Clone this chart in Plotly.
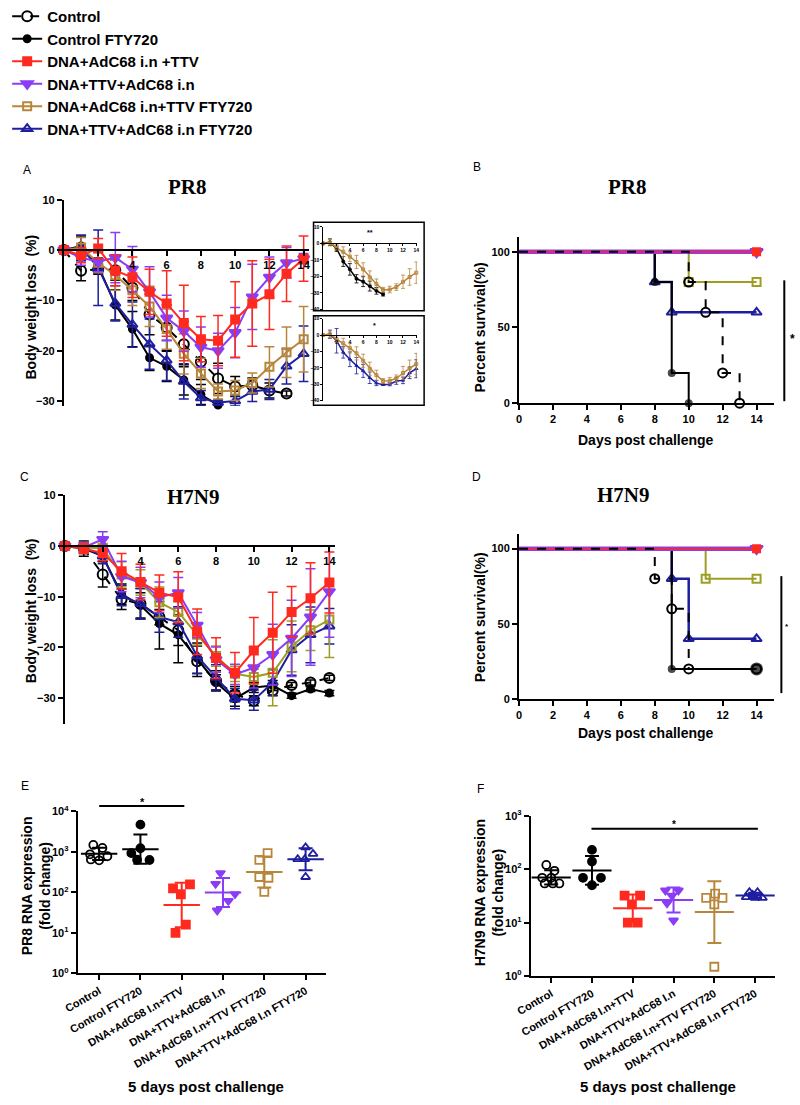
import numpy as np
import plotly.graph_objects as go

W, H = 800, 1105
FONT = "Liberation Sans, Arial, sans-serif"
SERIF = "Liberation Serif, Times New Roman, serif"

# ---------------- DATA ----------------
GROUPS = ["Control", "Control FTY720", "DNA+AdC68 i.n +TTV", "DNA+TTV+AdC68 i.n",
          "DNA+AdC68 i.n+TTV FTY720", "DNA+TTV+AdC68 i.n FTY720"]
CATS = ["Control", "Control FTY720", "DNA+AdC68 I.n+TTV", "DNA+TTV+AdC68 I.n",
        "DNA+AdC68 I.n+TTV FTY720", "DNA+TTV+AdC68 I.n FTY720"]

# Panel A: PR8 body weight loss (%), mean and SD per day
A_ctrl = [0, -4.1, -3.8, -4.0, -7.5, -12.8, -15.4, -18.7, -22.2, -25.5, -27.1, -26.9, -27.9, -28.5]
A_ctrl_sd = [0, 2, 1, 2, 2.5, 4, 4.5, 4.5, 3.5, 3, 2, 1.5, 1.5, 0.5]
A_fty = [0, 0.8, -3.1, -10.9, -15.7, -21.4, -23.1, -25.8, -28.7, -30.8]
A_fty_sd = [0, 2, 1.5, 3, 3.5, 2.5, 3, 3, 2, 1]
A_red = [0, -1.0, 0.3, -4.1, -5.4, -8.3, -10.6, -14.5, -17.7, -18.0, -13.8, -10.6, -8.8, -4.7, -1.7]
A_red_sd = [0, 1.5, 2, 3, 4, 4.5, 6.5, 7.5, 4.5, 5, 7.5, 8.5, 7, 5.5, 4.5]
A_pur = [0, -1.5, -2.3, -1.5, -3.8, -8.3, -13.5, -16.1, -19.3, -20.0, -16.4, -9.3, -5.4, -2.5, -1.7]
A_pur_sd = [0, 1.5, 2, 5, 4.5, 5, 4.5, 4, 4, 3.5, 5, 6.5, 4, 3, 1]
A_brn = [0, 0.5, -2.5, -5.0, -8.0, -11.2, -15.7, -20.6, -24.5, -28.1, -27.9, -26.4, -23.2, -20.3, -17.7]
A_brn_sd = [0, 2, 2, 3, 3, 4, 4, 4, 3, 1.5, 2, 2, 4, 5, 6.5]
A_blu = [0, 0.5, -3.5, -10.6, -14.8, -18.7, -21.9, -26.1, -29.4, -30.3, -30.0, -28.1, -27.7, -23.1, -20.6]
A_blu_sd = [0, 2.5, 7.5, 3.5, 4.5, 5, 4, 3.5, 1.5, 0.5, 1, 2, 2, 3.5, 5.5]

# Panel C: H7N9 body weight loss (%)
C_ctrl = [0, -0.5, -5.6, -10.5, -11.4, -14, -16.6, -22.7, -26.6, -29.2, -30.5, -28.5, -27.4, -26.9, -26.0]
C_ctrl_sd = [0, 1.5, 2.5, 2, 3, 1.5, 3, 3, 2, 1.5, 1, 1, 0.5, 0.5, 0.5]
C_fty = [0, -0.5, -2, -9.5, -11.7, -15.3, -17.5, -22.1, -26.9, -30.1, -27.9, -27.5, -29.5, -28.2, -29.0]
C_fty_sd = [0, 1, 1, 2, 2.5, 5, 5.5, 3, 1.5, 1.5, 1, 1, 0.5, 0.5, 0.5]
C_red = [0, -0.5, -1.4, -5, -7.1, -9.2, -10.1, -16.9, -22.1, -25, -20.6, -17.1, -13, -10.3, -7.2]
C_red_sd = [0, 1, 1.5, 3.5, 3.5, 3.5, 5, 4.5, 4, 4, 6.5, 8, 5, 7, 6]
C_pur = [0, -0.3, 1.3, -6, -7.2, -10.1, -9.2, -15.6, -22.4, -25.3, -24, -21.4, -18.2, -14, -9]
C_pur_sd = [0, 1, 1.5, 3, 3, 3, 3, 2.5, 2.5, 2, 4, 6, 7.5, 9.5, 9]
C_brn = [0, -0.3, -0.5, -5.6, -7.2, -11.1, -13, -17.5, -21.7, -25.2, -25.8, -25, -19.8, -16.6, -14.5]
C_brn_sd = [0, 1, 1, 2.5, 2.5, 3, 2, 2, 2, 1.5, 1.5, 6.5, 5, 4, 7.5]
C_blu = [0, -0.3, -2, -9.8, -11.4, -14, -15, -21.7, -25.9, -30.1, -30.4, -26.9, -20.5, -17.5, -15.8]
C_blu_sd = [0, 1, 1.5, 2, 3, 3, 3, 3.5, 2.5, 2, 2, 2.5, 5, 5.5, 3.5]

# Panel B: PR8 survival (step points: day, percent)
B_ctrl_t, B_ctrl_s = [0, 10, 11, 12, 13], [100, 80, 60, 20, 0]
B_fty_t, B_fty_s = [0, 8, 9, 10], [100, 80, 20, 0]
B_red_t, B_red_s = [0, 14], [100, 100]
B_pur_t, B_pur_s = [0, 14], [100, 100]
B_brn_t, B_brn_s = [0, 10, 14], [100, 80, 80]
B_blu_t, B_blu_s = [0, 8, 9, 14], [100, 80, 60, 60]

# Panel D: H7N9 survival
D_ctrl_t, D_ctrl_s = [0, 8, 9, 10, 14], [100, 80, 60, 20, 20]
D_fty_t, D_fty_s = [0, 9, 14], [100, 20, 20]
D_red_t, D_red_s = [0, 14], [100, 100]
D_pur_t, D_pur_s = [0, 14], [100, 100]
D_brn_t, D_brn_s = [0, 11, 14], [100, 80, 80]
D_blu_t, D_blu_s = [0, 9, 10, 14], [100, 80, 40, 40]

# Panel E: PR8 RNA expression (fold change), individual mice
E_ctrl = [1480, 1250, 870, 780, 650, 620]
E_fty = [4700, 1230, 930, 640, 630]
E_red = [126, 158, 90, 16, 10]
E_pur = [300, 163, 91, 62, 36]
E_brn = [930, 635, 240, 230, 103]
E_blu = [1290, 890, 660, 660, 240]

# Panel F: H7N9 RNA expression (fold change)
F_ctrl = [120, 93, 69, 69, 54, 54, 54]
F_fty = [229, 139, 69, 69, 50]
F_red = [32, 32, 22, 10, 10]
F_pur = [40, 40, 32, 23, 11]
F_brn = [35, 29, 29, 22, 1.5]
F_blu = [37, 37, 30, 29, 29, 33]

# ---------------- STYLE ----------------
BLACK = "black"
RED = "#FF2A1F"
PUR = "#8B3CF5"
BRN = "#B8863B"
OLV = "#9E9E24"
BLU = "#1E1E9E"

# horizontal jitter (category units) for scatter dots
JIT_E = [[-0.14, 0.08, -0.22, 0.2, -0.2, 0.0],
         [0.0, 0.0, -0.22, -0.08, 0.22],
         [-0.21, 0.2, -0.02, 0.1, -0.15],
         [-0.06, -0.18, 0.29, 0.13, -0.14],
         [0.08, -0.12, -0.12, 0.1, 0.0],
         [0.0, 0.18, -0.19, -0.02, 0.0]]
JIT_F = [[-0.12, 0.08, -0.22, 0.0, -0.16, 0.04, 0.2],
         [0.0, 0.0, -0.22, 0.22, 0.0],
         [-0.2, 0.18, -0.02, -0.12, 0.12],
         [-0.2, 0.12, -0.04, -0.16, 0.0],
         [0.02, -0.2, 0.2, 0.0, 0.0],
         [-0.14, 0.06, -0.22, 0.0, 0.18, -0.06]]


def dx(a, b):
    return [a / W, b / W]


def dy(top, bottom):
    return [1 - bottom / H, 1 - top / H]


def px(x):
    return x / W


def py(y):
    return 1 - y / H


fig = go.Figure()
TICKF = dict(family=FONT, size=11, color="black", weight="bold")

# ---------------- PANEL A ----------------
A_series = [
    (GROUPS[0], A_ctrl, A_ctrl_sd, BLACK, "circle-open", 10, "dash"),
    (GROUPS[1], A_fty, A_fty_sd, BLACK, "circle", 7, "solid"),
    (GROUPS[5], A_blu, A_blu_sd, BLU, "triangle-up-open", 9, "solid"),
    (GROUPS[4], A_brn, A_brn_sd, BRN, "square-open", 8, "solid"),
    (GROUPS[3], A_pur, A_pur_sd, PUR, "triangle-down", 10, "solid"),
    (GROUPS[2], A_red, A_red_sd, RED, "square", 8, "solid"),
]
ranks = {g: i for i, g in enumerate(GROUPS)}
for name, ys, sd, col, sym, sz, dash in A_series:
    fig.add_trace(go.Scatter(
        x=list(range(len(ys))), y=ys, xaxis="x", yaxis="y", name=name,
        mode="lines+markers", legendgroup=name, legendrank=ranks[name],
        line=dict(color=col, width=2, dash=dash),
        marker=dict(symbol=sym, size=sz, color=col, line=dict(width=2, color=col)),
        error_y=dict(type="data", array=sd, color=col, thickness=1.5, width=5),
        cliponaxis=False, showlegend=True))

# insets
for ax, pair in (("2", [(A_fty, A_fty_sd, BLACK, "circle"), (A_brn, A_brn_sd, BRN, "square-open")]),
                 ("3", [(A_blu, A_blu_sd, BLU, "triangle-up-open"), (A_brn, A_brn_sd, BRN, "square-open")])):
    for ys, sd, col, sym in pair:
        fig.add_trace(go.Scatter(
            x=list(range(len(ys))), y=ys, xaxis="x" + ax, yaxis="y" + ax, mode="lines+markers",
            line=dict(color=col, width=1.5), marker=dict(symbol=sym, size=3, color=col, line=dict(width=1, color=col)),
            error_y=dict(type="data", array=sd, color=col, thickness=0.8, width=2),
            cliponaxis=False, showlegend=False))

# ---------------- PANEL C ----------------
C_series = [
    (C_ctrl, C_ctrl_sd, BLACK, "circle-open", 10, "dash"),
    (C_fty, C_fty_sd, BLACK, "circle", 7, "solid"),
    (C_blu, C_blu_sd, BLU, "triangle-up-open", 9, "solid"),
    (C_brn, C_brn_sd, OLV, "square-open", 8, "solid"),
    (C_pur, C_pur_sd, PUR, "triangle-down", 10, "solid"),
    (C_red, C_red_sd, RED, "square", 8, "solid"),
]
for ys, sd, col, sym, sz, dash in C_series:
    fig.add_trace(go.Scatter(
        x=list(range(len(ys))), y=ys, xaxis="x5", yaxis="y5", mode="lines+markers",
        line=dict(color=col, width=2, dash=dash),
        marker=dict(symbol=sym, size=sz, color=col, line=dict(width=2, color=col)),
        error_y=dict(type="data", array=sd, color=col, thickness=1.5, width=5),
        cliponaxis=False, showlegend=False))


# ---------------- SURVIVAL ----------------
def surv(ax, t, s, col, dash, width, sym, sizes, opacity=1.0):
    fig.add_trace(go.Scatter(x=t, y=s, xaxis="x" + ax, yaxis="y" + ax, mode="lines",
                             line=dict(color=col, width=width, dash=dash, shape="hv"),
                             opacity=opacity, cliponaxis=False, showlegend=False))
    if sym:
        fig.add_trace(go.Scatter(x=t[1:], y=s[1:], xaxis="x" + ax, yaxis="y" + ax, mode="markers",
                                 marker=dict(symbol=sym, size=sizes, color=col, line=dict(width=2, color=col)),
                                 cliponaxis=False, showlegend=False))


for ax, d in (("4", dict(ctrl=(B_ctrl_t, B_ctrl_s), fty=(B_fty_t, B_fty_s), red=(B_red_t, B_red_s),
                        pur=(B_pur_t, B_pur_s), brn=(B_brn_t, B_brn_s), blu=(B_blu_t, B_blu_s))),
              ("6", dict(ctrl=(D_ctrl_t, D_ctrl_s), fty=(D_fty_t, D_fty_s), red=(D_red_t, D_red_s),
                        pur=(D_pur_t, D_pur_s), brn=(D_brn_t, D_brn_s), blu=(D_blu_t, D_blu_s)))):
    t, s = d["brn"]
    surv(ax, t, s, OLV, "solid", 2, "square-open", 8)
    t, s = d["blu"]
    surv(ax, t, s, BLU, "solid", 2.5, "triangle-up-open", 9)
    t, s = d["fty"]
    szs = [6] * (len(t) - 2) + [6 if s[-1] == 0 else 11]
    surv(ax, t, s, BLACK, "solid", 2, "circle", szs)
    t, s = d["pur"]
    surv(ax, t, s, PUR, "solid", 4.5, "triangle-down", 11)
    t, s = d["red"]
    surv(ax, t, s, RED, "solid", 2, "square", 7, opacity=0.85)
    t, s = d["ctrl"]
    surv(ax, t, s, BLACK, "dash", 2, "circle-open", 9)

# ---------------- RNA PANELS ----------------
E_sets = [E_ctrl, E_fty, E_red, E_pur, E_brn, E_blu]
F_sets = [F_ctrl, F_fty, F_red, F_pur, F_brn, F_blu]
RNA_STYLE = [(BLACK, "circle-open"), (BLACK, "circle"), (RED, "square"), (PUR, "triangle-down"),
             (BRN, "square-open"), (BLU, "triangle-up-open")]
for ax, sets, jit, mw in (("7", E_sets, JIT_E, 26), ("8", F_sets, JIT_F, 28)):
    for i, (vals, (col, sym)) in enumerate(zip(sets, RNA_STYLE)):
        fig.add_trace(go.Scatter(x=[i + o for o in jit[i]], y=vals, xaxis="x" + ax, yaxis="y" + ax,
                                 mode="markers", marker=dict(symbol=sym, size=8, color=col,
                                                              line=dict(width=1.8, color=col)),
                                 cliponaxis=False, showlegend=False))
        lg = np.log10(vals)
        m, sdv = lg.mean(), lg.std(ddof=1)
        gm = 10 ** m
        fig.add_trace(go.Scatter(x=[i], y=[gm], xaxis="x" + ax, yaxis="y" + ax, mode="markers",
                                 marker=dict(symbol="line-ew", size=mw, color=col, line=dict(width=2, color=col)),
                                 error_y=dict(type="data", symmetric=False, array=[10 ** (m + sdv) - gm],
                                              arrayminus=[gm - 10 ** (m - sdv)], color=col, thickness=2, width=7),
                                 cliponaxis=False, showlegend=False))

# ---------------- AXES ----------------
def zero_pos(domy, rng):
    return domy[0] + (0 - rng[0]) / (rng[1] - rng[0]) * (domy[1] - domy[0])


AX_COMMON = dict(showline=True, linecolor="black", linewidth=2, ticks="outside", tickcolor="black",
                 tickwidth=2, ticklen=5, showgrid=False, zeroline=False, tickfont=TICKF, fixedrange=True)

layout = dict(width=W, height=H, autosize=False, margin=dict(l=0, r=0, t=0, b=0),
              paper_bgcolor="white", plot_bgcolor="rgba(0,0,0,0)", showlegend=True)

# A
yA_dom, yA_rng = dy(190, 400), [-31, 10]
layout["xaxis"] = dict(domain=dx(50, 300), range=[0, 14.29], anchor="free", position=zero_pos(yA_dom, yA_rng),
                       tickvals=[2, 4, 6, 8, 10, 12, 14], ticktext=["", "4", "6", "8", "10", "12", "14"],
                       **AX_COMMON)
layout["yaxis"] = dict(domain=yA_dom, range=yA_rng, anchor="x", tickvals=[-30, -20, -10, 0, 10], **AX_COMMON)

# insets
SMALL = dict(family=FONT, size=5, color="black", weight="bold")
for ax, top, bot in (("2", 217.7, 301.7), ("3", 311, 394.3)):
    ydom, yrng = dy(top, bot), [-40, 10]
    c = dict(AX_COMMON)
    c.update(linewidth=1, tickwidth=1, ticklen=2, tickfont=SMALL)
    layout["xaxis" + ax] = dict(domain=dx(315, 411), range=[0, 14.15], anchor="free",
                                position=zero_pos(ydom, yrng), tickvals=[2, 4, 6, 8, 10, 12, 14], **c)
    layout["yaxis" + ax] = dict(domain=ydom, range=yrng, anchor="x" + ax,
                                tickvals=[-40, -30, -20, -10, 0, 10], **c)

# B and D
for ax, top, bot in (("4", 227.6, 397), ("6", 529.7, 698)):
    layout["xaxis" + ax] = dict(domain=dx(515, 775), range=[0, 15], anchor="y" + ax,
                                tickvals=list(range(0, 15, 2)), **AX_COMMON)
    layout["yaxis" + ax] = dict(domain=dy(top, bot), range=[0, 110], anchor="x" + ax,
                                tickvals=[0, 50, 100], **AX_COMMON)

# C
yC_dom, yC_rng = dy(490.7, 723), [-35, 10]
layout["xaxis5"] = dict(domain=dx(51, 327), range=[0, 14.3], anchor="free", position=zero_pos(yC_dom, yC_rng),
                        tickvals=[2, 4, 6, 8, 10, 12, 14], ticktext=["", "4", "6", "8", "10", "12", "14"],
                        **AX_COMMON)
layout["yaxis5"] = dict(domain=yC_dom, range=yC_rng, anchor="x5", tickvals=[-30, -20, -10, 0, 10], **AX_COMMON)

# E and F
for ax, xd, xr, top, bot, nd in (("7", (64, 318), [-0.52, 5.5], 812.3, 977.3, 4),
                                 ("8", (527, 777), [-0.5, 5.5], 816.7, 980, 3)):
    layout["xaxis" + ax] = dict(domain=dx(*xd), range=xr, anchor="y" + ax, tickvals=list(range(6)),
                                ticktext=CATS, tickangle=-30, **AX_COMMON)
    layout["yaxis" + ax] = dict(domain=dy(top, bot), range=[0, nd], type="log", anchor="x" + ax,
                                tickvals=[10 ** k for k in range(nd + 1)],
                                ticktext=["10<sup>%d</sup>" % k for k in range(nd + 1)], **AX_COMMON)

layout["legend"] = dict(x=-0.01, y=1.012, xanchor="left", yanchor="top", bgcolor="rgba(0,0,0,0)",
                        font=dict(family=FONT, size=15, color="black", weight="bold"),
                        tracegroupgap=0, itemwidth=30)

# ---------------- ANNOTATIONS ----------------
ann = []


def txt(x, y, t, size=12, font=FONT, angle=0, bold=True, xanchor="center"):
    ann.append(dict(x=px(x), y=py(y), xref="paper", yref="paper", text=("<b>%s</b>" % t) if bold else t,
                    showarrow=False, textangle=angle, xanchor=xanchor, yanchor="middle",
                    font=dict(family=font, size=size, color="black")))


for lab, x, y in (("A", 12, 160), ("B", 472, 157), ("C", 10, 472), ("D", 472, 472), ("E", 10, 787), ("F", 476, 790)):
    txt(x, y, lab, size=12, bold=False)
txt(176, 177, "PR8", size=21, font=SERIF)
txt(626, 177, "PR8", size=21, font=SERIF)
txt(182, 492, "H7N9", size=21, font=SERIF)
txt(622, 490, "H7N9", size=21, font=SERIF)
txt(16, 299, "Body weight loss &#160;(%)", size=14, angle=-90)
txt(16, 608, "Body weight loss &#160;(%)", size=14, angle=-90)
txt(476, 320, "Percent survival(%)", size=14, angle=-90)
txt(476, 615, "Percent survival(%)", size=14, angle=-90)
txt(645, 434, "Days post challenge", size=14)
txt(645, 733, "Days post challenge", size=14)
txt(21, 888, "PR8 RNA expression<br>(fold change)", size=14, angle=-90)
txt(484, 895, "H7N9 RNA expression<br>(fold change)", size=14, angle=-90)
txt(195, 1092, "5 days post challenge", size=15)
txt(657, 1092, "5 days post challenge", size=15)
txt(363, 223, "**", size=7)
txt(367, 318, "*", size=7)
txt(794, 332, "*", size=12)
txt(789, 624, "*", size=8)
txt(130, 803, "*", size=11)
txt(673, 826, "*", size=10)
layout["annotations"] = ann

LINE = dict(color="black", width=2)
layout["shapes"] = [
    dict(type="rect", xref="paper", yref="paper", x0=px(305), x1=px(418), y0=py(303), y1=py(213),
         line=dict(color="black", width=1.5)),
    dict(type="rect", xref="paper", yref="paper", x0=px(305), x1=px(418), y0=py(399), y1=py(308),
         line=dict(color="black", width=1.5)),
    dict(type="line", xref="paper", yref="paper", x0=px(786), x1=px(786), y0=py(395), y1=py(272), line=LINE),
    dict(type="line", xref="paper", yref="paper", x0=px(783), x1=px(783), y0=py(692), y1=py(573), line=LINE),
    dict(type="line", xref="paper", yref="paper", x0=px(86), x1=px(173), y0=py(807), y1=py(807), line=LINE),
    dict(type="line", xref="paper", yref="paper", x0=px(589), x1=px(759), y0=py(830), y1=py(830), line=LINE),
]

fig.update_layout(**layout)
fig.write_html(
    "out.html",
    config={"displayModeBar": False},
    post_script=("var g=document.getElementById('{plot_id}');"
                 "g.style.position='fixed';g.style.top='0px';g.style.left='0px';"
                 "document.body.style.margin='0';document.body.style.overflow='hidden';"))
